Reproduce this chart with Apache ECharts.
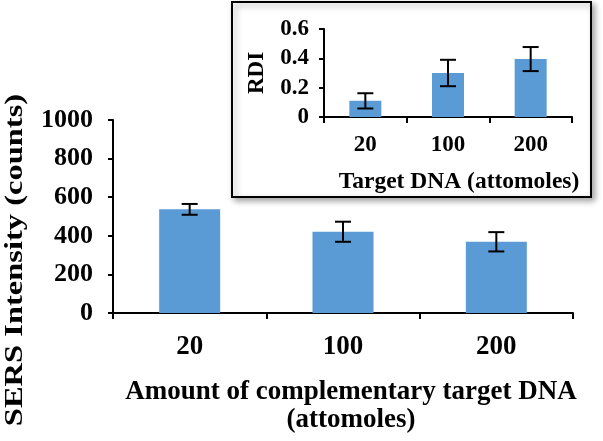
<!DOCTYPE html>
<html>
<head>
<meta charset="utf-8">
<script src="https://cdn.jsdelivr.net/npm/echarts@6/dist/echarts.min.js"></script>
<style>
  html, body { margin: 0; padding: 0; background: #fff; }
  #chart { width: 603px; height: 441px; }
</style>
</head>
<body>
<div id="chart"></div>
<script>
// main plot
const categories = ['20', '100', '200']
const sersValues = [537, 421, 369]
const sersErrors = [28, 52, 50]
const sersTicks = [0, 200, 400, 600, 800, 1000]

// inset plot
const rdiValues = [0.11, 0.30, 0.395]
const rdiErrors = [0.052, 0.09, 0.082]
const rdiTicks = [0, 0.2, 0.4, 0.6]

const font = '"Liberation Serif", "Times New Roman", serif'
const barColor = '#5b9bd5'

function errorData(values, errors) {
  return values.map((v, i) => [i, v - errors[i], v + errors[i]])
}

function errorRenderer(capHalf) {
  return function (params, api) {
    const lo = api.coord([api.value(0), api.value(1)])
    const hi = api.coord([api.value(0), api.value(2)])
    const x = lo[0]
    const style = { stroke: '#000', lineWidth: 2 }
    return {
      type: 'group',
      children: [
        { type: 'line', shape: { x1: x, y1: lo[1], x2: x, y2: hi[1] }, style },
        { type: 'line', shape: { x1: x - capHalf, y1: lo[1], x2: x + capHalf, y2: lo[1] }, style },
        { type: 'line', shape: { x1: x - capHalf, y1: hi[1], x2: x + capHalf, y2: hi[1] }, style }
      ]
    }
  }
}

function catAxis(gridIndex, size, margin) {
  return {
    type: 'category',
    gridIndex,
    data: categories,
    axisLine: { lineStyle: { color: '#000', width: 2 } },
    axisTick: { show: true, length: 6, lineStyle: { color: '#000', width: 2 } },
    axisLabel: { color: '#000', fontFamily: font, fontWeight: 'bold', fontSize: size, margin }
  }
}

function valAxis(gridIndex, ticks, size, margin, fmt) {
  return {
    type: 'value',
    gridIndex,
    min: ticks[0],
    max: ticks[ticks.length - 1],
    interval: ticks[1] - ticks[0],
    splitLine: { show: false },
    axisLine: { show: true, lineStyle: { color: '#000', width: 2 } },
    axisTick: { show: true, length: 5, lineStyle: { color: '#000', width: 2 } },
    axisLabel: { color: '#000', fontFamily: font, fontWeight: 'bold', fontSize: size, margin, formatter: fmt }
  }
}

const chart = echarts.init(document.getElementById('chart'))
chart.setOption({
  animation: false,
  backgroundColor: '#fff',
  grid: [
    { left: 113, right: 30, top: 120, bottom: 128 },
    { left: 324, right: 31, top: 29, bottom: 324 }
  ],
  xAxis: [catAxis(0, 27, 21), catAxis(1, 23, 17)],
  yAxis: [
    valAxis(0, sersTicks, 26, 20, v => String(v)),
    valAxis(1, rdiTicks, 23, 15, v => (v === 0 ? '0' : v.toFixed(1)))
  ],
  graphic: [
    {
      type: 'rect', z: -1,
      shape: { x: 232, y: 2, width: 359, height: 195 },
      style: { fill: '#fff', stroke: '#000', lineWidth: 2, shadowBlur: 6, shadowOffsetX: 3, shadowOffsetY: 3, shadowColor: 'rgba(0,0,0,0.35)' }
    },
    {
      type: 'text', z: 5, x: 16, y: 260, rotation: Math.PI / 2, scaleX: 1.3,
      style: { text: 'SERS Intensity (counts)', font: 'bold 25px ' + font, fill: '#000', align: 'center', verticalAlign: 'middle' }
    },
    {
      type: 'text', z: 5, x: 351, y: 392, scaleY: 1.05,
      style: { text: 'Amount of complementary target DNA', font: 'bold 27px ' + font, fill: '#000', align: 'center', verticalAlign: 'middle' }
    },
    {
      type: 'text', z: 5, x: 351, y: 420, scaleY: 1.05,
      style: { text: '(attomoles)', font: 'bold 27px ' + font, fill: '#000', align: 'center', verticalAlign: 'middle' }
    },
    {
      type: 'text', z: 5, x: 257, y: 73, rotation: Math.PI / 2,
      style: { text: 'RDI', font: 'bold 23px ' + font, fill: '#000', align: 'center', verticalAlign: 'middle' }
    },
    {
      type: 'text', z: 5, x: 459, y: 182,
      style: { text: 'Target DNA (attomoles)', font: 'bold 23.5px ' + font, fill: '#000', align: 'center', verticalAlign: 'middle' }
    }
  ],
  series: [
    { type: 'bar', xAxisIndex: 0, yAxisIndex: 0, data: sersValues, barWidth: 61, itemStyle: { color: barColor } },
    { type: 'custom', xAxisIndex: 0, yAxisIndex: 0, z: 3, data: errorData(sersValues, sersErrors), renderItem: errorRenderer(8) },
    { type: 'bar', xAxisIndex: 1, yAxisIndex: 1, z: 4, data: rdiValues, barWidth: 32, itemStyle: { color: barColor } },
    { type: 'custom', xAxisIndex: 1, yAxisIndex: 1, z: 5, data: errorData(rdiValues, rdiErrors), renderItem: errorRenderer(8) }
  ]
})
</script>
</body>
</html>
